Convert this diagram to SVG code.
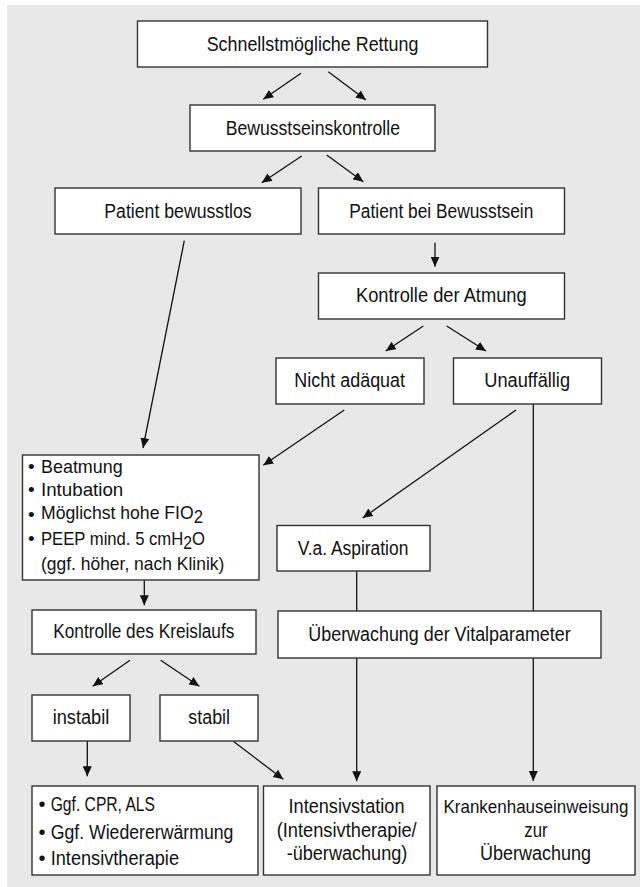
<svg xmlns="http://www.w3.org/2000/svg" width="640" height="887" viewBox="0 0 640 887">
<style>
.bg{fill:#e8e8e8}
.box{fill:#ffffff;stroke:#333333;stroke-width:1.4}
.t{font-family:"Liberation Sans",Arial,sans-serif;font-size:20px;fill:#111111}
.s{font-size:19px}
.c{text-anchor:middle}
.ln{stroke:#111111;stroke-width:1.3;fill:none}
.ar{marker-end:url(#ah)}
</style>
<defs>
<marker id="ah" markerUnits="userSpaceOnUse" markerWidth="11" markerHeight="9" refX="10" refY="4.5" orient="auto">
<path d="M0,0 L10,4.5 L0,9 Z" fill="#111111"/>
</marker>
</defs>
<rect class="bg" x="7" y="5" width="633" height="882"/>

<g id="connectors">
<line class="ln ar" x1="301" y1="73.3" x2="263.3" y2="99.3"/>
<line class="ln ar" x1="328.3" y1="71.7" x2="366" y2="100"/>
<line class="ln ar" x1="301.7" y1="156" x2="261.7" y2="182.7"/>
<line class="ln ar" x1="326.7" y1="155" x2="363.3" y2="181.7"/>
<line class="ln ar" x1="184.3" y1="240.7" x2="143" y2="448"/>
<line class="ln ar" x1="435" y1="242.7" x2="435" y2="266.7"/>
<line class="ln ar" x1="423.3" y1="326" x2="385.7" y2="351"/>
<line class="ln ar" x1="446.7" y1="326" x2="486" y2="351"/>
<line class="ln ar" x1="344.3" y1="410" x2="263.3" y2="465.3"/>
<line class="ln ar" x1="516" y1="410" x2="362.7" y2="518"/>
<line class="ln" x1="533.3" y1="404" x2="533.3" y2="611"/>
<line class="ln ar" x1="144.3" y1="580" x2="144.3" y2="605.3"/>
<line class="ln" x1="356.7" y1="571" x2="356.7" y2="611"/>
<line class="ln ar" x1="130" y1="660.3" x2="92.7" y2="686.3"/>
<line class="ln ar" x1="160.7" y1="660.3" x2="199.3" y2="686.3"/>
<line class="ln ar" x1="87.3" y1="741" x2="87.3" y2="776.3"/>
<line class="ln ar" x1="233.3" y1="741.3" x2="283.3" y2="779.3"/>
<line class="ln ar" x1="356.7" y1="658" x2="356.7" y2="781.3"/>
<line class="ln ar" x1="533.3" y1="658" x2="533.3" y2="781"/>
</g>

<g id="n-rettung">
<rect class="box" x="137.5" y="21" width="350" height="46"/>
<text class="t c" x="312.5" y="50.5" textLength="211.7" lengthAdjust="spacingAndGlyphs">Schnellstmögliche Rettung</text>
</g>
<g id="n-bewusstseinskontrolle">
<rect class="box" x="190" y="105" width="245" height="46"/>
<text class="t c" x="312.8" y="134.5" textLength="174.3" lengthAdjust="spacingAndGlyphs">Bewusstseinskontrolle</text>
</g>
<g id="n-bewusstlos">
<rect class="box" x="55" y="188" width="246" height="46"/>
<text class="t c" x="178" y="217.5" textLength="147.4" lengthAdjust="spacingAndGlyphs">Patient bewusstlos</text>
</g>
<g id="n-bei-bewusstsein">
<rect class="box" x="318.5" y="188" width="246" height="46"/>
<text class="t c" x="441.3" y="217.5" textLength="184" lengthAdjust="spacingAndGlyphs">Patient bei Bewusstsein</text>
</g>
<g id="n-atmung">
<rect class="box" x="318.5" y="273" width="246" height="46"/>
<text class="t c" x="441.3" y="302" textLength="170.7" lengthAdjust="spacingAndGlyphs">Kontrolle der Atmung</text>
</g>
<g id="n-nicht-adaequat">
<rect class="box" x="276" y="358" width="148" height="46"/>
<text class="t c" x="349.7" y="387" textLength="110.7" lengthAdjust="spacingAndGlyphs">Nicht adäquat</text>
</g>
<g id="n-unauffaellig">
<rect class="box" x="453.5" y="358" width="148" height="46"/>
<text class="t c" x="527.2" y="387" textLength="85.7" lengthAdjust="spacingAndGlyphs">Unauffällig</text>
</g>
<g id="n-beatmung">
<rect class="box" x="22.5" y="455" width="236.5" height="125"/>
<text class="t s" x="28" y="473">•</text>
<text class="t s" x="41" y="473" textLength="81.7" lengthAdjust="spacingAndGlyphs">Beatmung</text>
<text class="t s" x="28" y="496">•</text>
<text class="t s" x="41" y="496" textLength="82.3" lengthAdjust="spacingAndGlyphs">Intubation</text>
<text class="t s" x="28" y="521">•</text>
<text class="t s" x="41" y="518.5" textLength="162" lengthAdjust="spacingAndGlyphs">Möglichst hohe FIO<tspan dy="4" font-size="18">2</tspan></text>
<text class="t s" x="28" y="545">•</text>
<text class="t s" x="41" y="545" textLength="164" lengthAdjust="spacingAndGlyphs">PEEP mind. 5 cmH<tspan dy="3.5" font-size="18">2</tspan><tspan dy="-3.5">O</tspan></text>
<text class="t s" x="41" y="570" textLength="183.3" lengthAdjust="spacingAndGlyphs">(ggf. höher, nach Klinik)</text>
</g>
<g id="n-aspiration">
<rect class="box" x="277" y="525.5" width="153" height="45.5"/>
<text class="t c" x="353" y="555" textLength="110.7" lengthAdjust="spacingAndGlyphs">V.a. Aspiration</text>
</g>
<g id="n-kreislauf">
<rect class="box" x="32" y="610" width="224" height="44"/>
<text class="t c" x="143.8" y="638" textLength="181" lengthAdjust="spacingAndGlyphs">Kontrolle des Kreislaufs</text>
</g>
<g id="n-vitalparameter">
<rect class="box" x="278" y="611" width="323" height="47"/>
<text class="t c" x="439.5" y="640.5" textLength="262.4" lengthAdjust="spacingAndGlyphs">Überwachung der Vitalparameter</text>
</g>
<g id="n-instabil">
<rect class="box" x="32" y="695" width="98" height="46"/>
<text class="t c" x="81" y="724" textLength="56.7" lengthAdjust="spacingAndGlyphs">instabil</text>
</g>
<g id="n-stabil">
<rect class="box" x="160" y="695" width="98" height="46"/>
<text class="t c" x="209.2" y="724" textLength="41.7" lengthAdjust="spacingAndGlyphs">stabil</text>
</g>
<g id="n-cpr">
<rect class="box" x="32" y="786" width="226" height="89"/>
<text class="t" x="38.5" y="811">•</text>
<text class="t" x="50.7" y="811" textLength="104.3" lengthAdjust="spacingAndGlyphs">Ggf. CPR, ALS</text>
<text class="t" x="38.5" y="838.5">•</text>
<text class="t" x="50.7" y="838.5" textLength="182.7" lengthAdjust="spacingAndGlyphs">Ggf. Wiedererwärmung</text>
<text class="t" x="38.5" y="865">•</text>
<text class="t" x="50.7" y="865" textLength="128.3" lengthAdjust="spacingAndGlyphs">Intensivtherapie</text>
</g>
<g id="n-intensivstation">
<rect class="box" x="263.5" y="786" width="166.5" height="89"/>
<text class="t c" x="346.5" y="812.7" textLength="116" lengthAdjust="spacingAndGlyphs">Intensivstation</text>
<text class="t c" x="346.7" y="837" textLength="140" lengthAdjust="spacingAndGlyphs">(Intensivtherapie/</text>
<text class="t c" x="347" y="860.3" textLength="120.7" lengthAdjust="spacingAndGlyphs">-überwachung)</text>
</g>
<g id="n-krankenhaus">
<rect class="box" x="437" y="786" width="198" height="89"/>
<text class="t c s" x="536" y="812.7" textLength="185" lengthAdjust="spacingAndGlyphs">Krankenhauseinweisung</text>
<text class="t c" x="536" y="837" textLength="23.3" lengthAdjust="spacingAndGlyphs">zur</text>
<text class="t c" x="535.5" y="860.3" textLength="111" lengthAdjust="spacingAndGlyphs">Überwachung</text>
</g>
</svg>
